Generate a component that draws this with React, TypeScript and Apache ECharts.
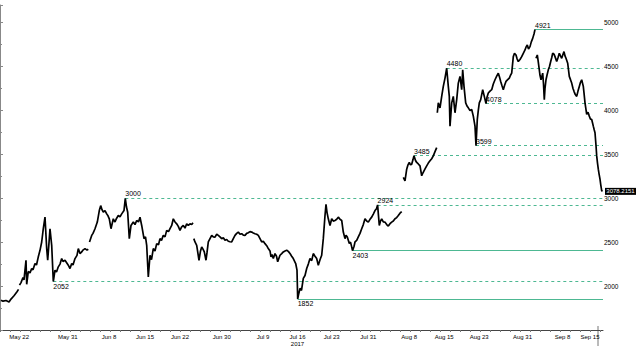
import React, { useEffect, useRef } from 'react';
import * as echarts from 'echarts';

// x = days since 18 May 2017 (00:00), y = price
const segA: [number, number][] = [
  [0.2, 1840], [0.6, 1828], [1.2, 1836], [1.8, 1818], [2.2, 1852], [2.8, 1890], [3.4, 1935], [3.7, 1962],
];
const segB: [number, number][] = [
  [3.9, 2010], [4.2, 2040], [4.6, 2098], [4.8, 2070], [5.0, 2181], [5.2, 2294], [5.34, 2020], [5.66, 2166],
  [6.0, 2150], [6.34, 2200], [6.6, 2185], [7.0, 2257], [7.3, 2240], [7.66, 2333], [8.0, 2407], [8.34, 2502],
  [8.66, 2653], [9.0, 2785], [9.34, 2427], [9.54, 2294], [9.86, 2540], [10.0, 2653], [10.34, 2464], [10.66, 2052],
  [11.0, 2181], [11.3, 2160], [11.66, 2219], [12.0, 2250], [12.34, 2313], [12.6, 2280], [13.0, 2294], [13.66, 2238],
  [14.0, 2200], [14.34, 2257], [14.6, 2240], [15.0, 2313], [15.4, 2350], [15.66, 2427], [16.0, 2370], [16.34, 2389],
  [16.6, 2410], [17.0, 2427], [17.4, 2410], [17.66, 2420],
];
const segC: [number, number][] = [
  [17.9, 2502], [18.34, 2577], [18.6, 2600], [19.0, 2653], [19.46, 2729], [19.86, 2860], [20.14, 2916], [20.4, 2870],
  [20.66, 2841], [21.0, 2860], [21.34, 2822], [21.6, 2800], [21.86, 2766], [22.2, 2653], [22.66, 2766], [23.0, 2729],
  [23.3, 2770], [23.66, 2803], [24.0, 2790], [24.34, 2822], [24.8, 2860], [25.06, 3000], [25.3, 2900], [25.54, 2841],
  [25.86, 2540], [26.2, 2690], [26.66, 2729], [27.0, 2700], [27.34, 2747], [27.7, 2730], [28.0, 2785], [28.34, 2690],
  [28.8, 2540], [29.1, 2560], [29.34, 2464], [29.66, 2105], [30.0, 2351], [30.3, 2300], [30.66, 2427], [31.0, 2400],
  [31.34, 2483], [31.7, 2470], [32.0, 2540], [32.3, 2520], [32.66, 2577], [33.0, 2560], [33.34, 2634], [33.7, 2620],
  [34.0, 2653], [34.34, 2690], [34.66, 2766], [35.0, 2730], [35.34, 2709], [35.66, 2680], [36.0, 2634], [36.3, 2670],
  [36.66, 2690], [37.0, 2660], [37.34, 2709], [37.66, 2690], [38.0, 2709], [38.34, 2700], [38.6, 2720],
];
const segD: [number, number][] = [
  [38.76, 2540], [39.0, 2502], [39.34, 2464], [39.8, 2294], [40.1, 2400], [40.34, 2446], [40.6, 2420], [40.86, 2389],
  [41.2, 2294], [41.4, 2380], [41.66, 2502], [42.0, 2540], [42.34, 2577], [42.66, 2560], [43.0, 2558], [43.34, 2590],
  [43.66, 2577], [44.0, 2560], [44.34, 2540], [44.66, 2550], [45.0, 2521], [45.34, 2530], [45.66, 2510], [46.0, 2505],
  [46.34, 2502], [46.66, 2540], [47.0, 2577], [47.34, 2600], [47.66, 2615], [48.0, 2590], [48.34, 2596], [48.66, 2580],
  [49.0, 2577], [49.34, 2600], [49.66, 2607], [50.0, 2620], [50.34, 2615], [50.66, 2605], [51.0, 2596], [51.34, 2590],
  [51.66, 2577], [52.0, 2540], [52.34, 2502], [52.66, 2510], [53.0, 2483], [53.34, 2460], [53.66, 2427], [54.0, 2400],
  [54.2, 2333], [54.4, 2360], [54.66, 2313], [55.0, 2370], [55.3, 2340], [55.54, 2276], [55.8, 2320], [56.0, 2351],
  [56.34, 2370], [56.66, 2389], [57.0, 2400], [57.34, 2408], [57.66, 2395], [58.0, 2370], [58.34, 2340], [58.66, 2313],
  [59.14, 2257], [59.4, 2181], [59.54, 1852], [59.7, 1900], [60.0, 1974], [60.3, 1950], [60.66, 2087], [61.0, 2120],
  [61.34, 2200], [61.66, 2250], [62.0, 2313], [62.34, 2290], [62.66, 2370], [63.0, 2340], [63.34, 2313], [63.66, 2238],
  [64.0, 2300], [64.34, 2351], [64.66, 2540], [65.0, 2803], [65.2, 2930], [65.4, 2840], [65.66, 2766], [66.0, 2690],
  [66.34, 2766], [66.66, 2740], [67.0, 2747], [67.34, 2760], [67.66, 2785], [68.0, 2760], [68.34, 2747], [68.66, 2615],
  [69.0, 2540], [69.2, 2580], [69.46, 2559], [69.86, 2484], [70.1, 2500], [70.34, 2446], [70.5, 2403], [70.8, 2450],
  [71.0, 2502], [71.34, 2520], [71.66, 2559], [72.0, 2600], [72.34, 2653], [72.66, 2700], [73.0, 2766], [73.34, 2740],
  [73.66, 2728], [74.0, 2760], [74.34, 2785], [74.66, 2820], [75.0, 2860], [75.3, 2880], [75.52, 2924], [75.7, 2800],
  [75.86, 2690], [76.1, 2740], [76.34, 2766], [76.66, 2730], [77.0, 2728], [77.34, 2700], [77.66, 2683], [78.0, 2710],
  [78.34, 2728], [78.66, 2740], [79.0, 2766], [79.34, 2780], [79.66, 2803], [80.0, 2830], [80.34, 2848],
];
const segE: [number, number][] = [
  [80.66, 3237], [81.0, 3199], [81.34, 3331], [81.6, 3380], [81.86, 3407], [82.1, 3380], [82.34, 3388], [82.6, 3440],
  [82.8, 3485], [83.1, 3430], [83.34, 3407], [83.66, 3390], [84.0, 3369], [84.34, 3256], [84.6, 3290], [84.8, 3312],
  [85.06, 3340], [85.34, 3369], [85.66, 3400], [86.0, 3426], [86.34, 3450], [86.66, 3482], [87.0, 3530], [87.34, 3577],
];
const segF: [number, number][] = [
  [87.46, 3973], [87.66, 4086], [88.0, 4029], [88.34, 4160], [88.66, 4273], [89.0, 4368], [89.34, 4480], [89.66, 4273],
  [89.86, 4160], [90.0, 3821], [90.34, 4086], [90.66, 4160], [91.0, 3973], [91.34, 4123], [91.66, 4311], [92.0, 4387],
  [92.34, 4236], [92.54, 4462], [92.8, 4273], [93.14, 4086], [93.4, 4050], [93.66, 4029], [94.0, 4000], [94.34, 4011],
  [94.66, 3935], [95.0, 3821], [95.2, 3599], [95.46, 3897], [95.66, 4000], [95.86, 4086], [96.14, 4123], [96.34, 4180],
  [96.54, 4236], [96.86, 4160], [97.2, 4078], [97.4, 4150], [97.66, 4198], [98.0, 4220], [98.34, 4236], [98.66, 4300],
  [99.0, 4349], [99.34, 4390], [99.66, 4424], [99.9, 4380], [100.14, 4330], [100.4, 4280], [100.66, 4236], [100.94, 4290],
  [101.2, 4330], [101.54, 4350], [101.86, 4368], [102.1, 4400], [102.34, 4424], [102.66, 4612], [102.9, 4650], [103.2, 4631],
  [103.4, 4590], [103.66, 4556], [104.0, 4580], [104.34, 4612], [104.66, 4650], [105.0, 4688], [105.2, 4720], [105.46, 4745],
  [105.7, 4700], [106.0, 4726], [106.26, 4780], [106.54, 4820], [106.8, 4870], [107.0, 4921],
];
const segG: [number, number][] = [
  [107.2, 4594], [107.46, 4631], [107.66, 4550], [107.86, 4462], [108.0, 4400], [108.2, 4349], [108.54, 4424], [108.7, 4300],
  [108.86, 4123], [109.0, 4250], [109.2, 4349], [109.4, 4400], [109.66, 4462], [109.9, 4500], [110.14, 4556], [110.34, 4600],
  [110.54, 4651], [110.8, 4640], [111.0, 4612], [111.34, 4556], [111.6, 4600], [111.86, 4651], [112.1, 4620], [112.34, 4594],
  [112.6, 4640], [112.8, 4669], [113.0, 4620], [113.2, 4594], [113.54, 4537], [113.86, 4387], [114.1, 4350], [114.34, 4311],
  [114.6, 4250], [114.8, 4217], [115.06, 4180], [115.34, 4160], [115.6, 4220], [115.86, 4273], [116.1, 4320], [116.34, 4349],
  [116.66, 4273], [116.8, 4200], [117.0, 4086], [117.34, 3954], [117.6, 3980], [117.86, 3935], [118.1, 3900], [118.34, 3897],
  [118.5, 3860], [118.66, 3821], [118.84, 3780], [119.0, 3746], [119.2, 3600], [119.34, 3482], [119.5, 3400], [119.66, 3331],
  [119.8, 3280], [120.0, 3218], [120.16, 3150], [120.34, 3086], [120.5, 3078.2151],
];
const segments = [segA, segB, segC, segD, segE, segF, segG];

// annotated levels
const levelValues = [3000, 2052, 1852, 2403, 2924, 3485, 4480, 3599, 4078, 4921];
const levelDays = [25.06, 10.66, 59.54, 70.5, 75.52, 82.8, 89.34, 95.2, 97.2, 107.0];
const levelSolid = [false, false, true, true, false, false, false, false, false, true];
const levelBelow = [false, true, true, true, false, false, false, false, false, false];

// x-axis labels (day positions) and texts
const xLabelDays = [3.84, 13.56, 21.8, 29, 36, 44.34, 52.6, 59.5, 66.34, 73.66, 81.84, 88.84, 95.84, 104.5, 112.5, 118];
const xLabelTexts = ['May 22', 'May 31', 'Jun 8', 'Jun 15', 'Jun 22', 'Jun 30', 'Jul 9', 'Jul 16\n2017', 'Jul 23', 'Jul 31', 'Aug 8', 'Aug 15', 'Aug 23', 'Aug 31', 'Sep 8', 'Sep 15'];
const xTickDays = [0, 2, 4, 6, 8, 10, 12, 14, 16, 18, 20, 22, 24, 26, 28, 30, 32, 34, 36, 38, 40, 42, 44, 46, 48, 50, 52, 54, 56, 58, 60, 62, 64, 66, 68, 70, 72, 74, 76, 78, 80, 82, 84, 86, 88, 90, 92, 94, 96, 98, 100, 102, 104, 106, 108, 110, 112, 114, 116, 118, 120];
const yLabelValues = [2000, 2500, 3000, 3500, 4000, 4500, 5000];

const FONT = 'Liberation Sans, Arial, sans-serif';
const TEAL = '#4db892';

export default function App() {
  const ref = useRef<HTMLDivElement>(null);
  useEffect(() => {
    if (!ref.current) return;
    const chart = echarts.init(ref.current, undefined, { renderer: 'svg' });
    const data: (number | null)[][] = [];
    segments.forEach((seg, i) => {
      if (i > 0) {
        const prev = segments[i - 1];
        data.push([(prev[prev.length - 1][0] + seg[0][0]) / 2, null]);
      }
      seg.forEach((p) => data.push([p[0], p[1]]));
    });
    const lastSeg = segG[segG.length - 1];
    const xMax = 120.6;

    const markLineData = levelValues.map((v, i) => {
      const ls = { color: TEAL, width: 1, type: levelSolid[i] ? 'solid' : [3, 3], opacity: 1 };
      return [
        {
          coord: [levelDays[i], v],
          lineStyle: ls,
          label: {
            show: true,
            formatter: String(v),
            position: levelBelow[i] ? 'insideStartBottom' : 'insideStartTop',
            distance: [0, 1],
            fontSize: 7,
            color: '#000',
            fontFamily: FONT,
          },
        },
        { coord: [xMax, v], lineStyle: ls },
      ];
    });

    chart.setOption({
      animation: false,
      grid: { left: 0, right: 41, top: 5, bottom: 16, containLabel: false },
      xAxis: {
        type: 'value',
        min: 0,
        max: xMax,
        splitLine: { show: false },
        axisLine: { show: true, onZero: false, lineStyle: { color: '#444', width: 1 } },
        axisTick: { show: true, customValues: xTickDays, length: 2, lineStyle: { color: '#777' } },
        axisLabel: {
          customValues: xLabelDays,
          formatter: (val: number) => {
            const idx = xLabelDays.findIndex((d) => Math.abs(d - val) < 0.01);
            return idx >= 0 ? xLabelTexts[idx] : '';
          },
          fontSize: 6,
          lineHeight: 7,
          color: '#000',
          margin: 3,
          fontFamily: FONT,
        },
      },
      yAxis: {
        type: 'value',
        position: 'right',
        min: 1500,
        max: 5200,
        interval: 500,
        splitLine: { show: false },
        axisLine: { show: true, lineStyle: { color: '#888', width: 1 } },
        axisTick: { show: true, length: 3, lineStyle: { color: '#888' } },
        minorTick: { show: true, splitNumber: 2, length: 2, lineStyle: { color: '#888' } },
        axisLabel: {
          showMaxLabel: false,
          formatter: (v: number) => (yLabelValues.indexOf(v) >= 0 ? String(v) : ''),
          fontSize: 6.5,
          color: '#000',
          margin: 1,
          fontFamily: FONT,
        },
      },
      series: [
        {
          type: 'line',
          data,
          showSymbol: false,
          symbol: 'none',
          connectNulls: false,
          color: '#000',
          lineStyle: { color: '#000', width: 1.7 },
          z: 3,
          markLine: {
            silent: true,
            symbol: ['none', 'none'],
            z: 2,
            lineStyle: { color: TEAL, width: 1 },
            label: { color: '#000', fontSize: 7, fontFamily: FONT },
            data: markLineData,
          },
          markPoint: {
            silent: true,
            data: [
              {
                coord: [lastSeg[0], lastSeg[1]],
                symbol: 'rect',
                symbolSize: [31, 7],
                symbolOffset: [18, 0],
                itemStyle: { color: '#000' },
                label: {
                  show: true,
                  position: 'inside',
                  formatter: String(lastSeg[1]),
                  color: '#fff',
                  fontSize: 6,
                  fontFamily: FONT,
                },
              },
            ],
          },
        },
      ],
      graphic: [
        { type: 'line', shape: { x1: 598, y1: 326, x2: 598, y2: 346 }, style: { stroke: '#777', lineWidth: 1 } },
      ],
    });
    return () => chart.dispose();
  }, []);
  return <div ref={ref} style={{ position: 'fixed', left: 0, top: 0, width: 644, height: 347, background: '#fff' }} />;
}
